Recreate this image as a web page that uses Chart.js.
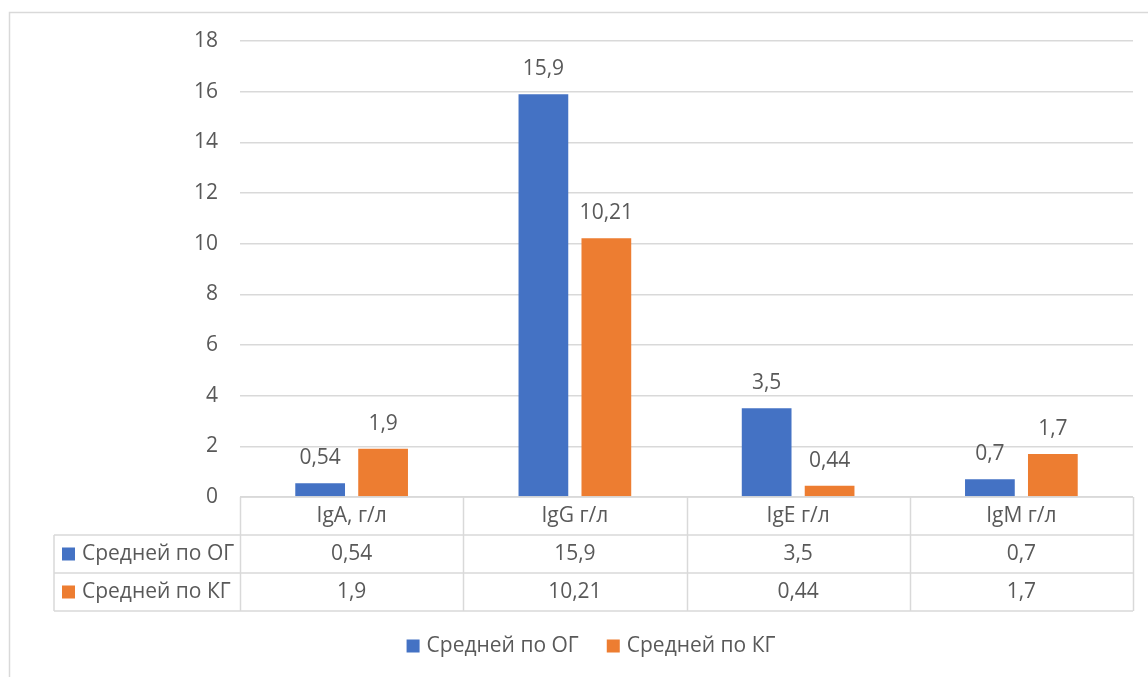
<!DOCTYPE html>
<html>
<head>
<meta charset="utf-8">
<script src="https://cdn.jsdelivr.net/npm/chart.js@4.4.0/dist/chart.umd.min.js"></script>
<style>
  html, body { margin: 0; padding: 0; background: #ffffff; }
  #wrap { width: 1148px; height: 677px; position: relative; }
</style>
</head>
<body>
<div id="wrap"><canvas id="chart"></canvas></div>
<script>
// Immunoglobulin means for the two groups
const categories = ['IgA, г/л', 'IgG г/л', 'IgE г/л', 'IgM г/л'];
const seriesNames = ['Средней по ОГ', 'Средней по КГ'];
const valuesOG = [0.54, 15.9, 3.5, 0.7];
const valuesKG = [1.9, 10.21, 0.44, 1.7];
const yMin = 0;
const yMax = 18;
const yStep = 2;

const seriesColors = ['#4472C4', '#ED7D31'];
const textColor = '#595959';
const lineColor = '#d9d9d9';
const fontFamily = '"Open Sans", "Noto Sans", sans-serif';
const fontSize = 21;

const fmt = v => String(v).replace('.', ',');

// Value labels above each bar
const valueLabels = {
  id: 'valueLabels',
  afterDatasetsDraw(chart) {
    const ctx = chart.ctx;
    ctx.save();
    ctx.font = fontSize + 'px ' + fontFamily;
    ctx.fillStyle = textColor;
    ctx.textAlign = 'center';
    ctx.textBaseline = 'middle';
    chart.data.datasets.forEach((ds, di) => {
      const meta = chart.getDatasetMeta(di);
      meta.data.forEach((bar, i) => {
        ctx.fillText(fmt(ds.data[i]), bar.x, bar.y - 25);
      });
    });
    ctx.restore();
  }
};

// Data table under the plot plus the bottom legend and outer frame
const dataTable = {
  id: 'dataTable',
  beforeDraw(chart) {
    const ctx = chart.ctx;
    ctx.save();
    ctx.strokeStyle = lineColor;
    ctx.lineWidth = 1.5;
    ctx.beginPath();
    ctx.moveTo(9.5, chart.height);
    ctx.lineTo(9.5, 12.5);
    ctx.lineTo(chart.width, 12.5);
    ctx.stroke();
    ctx.restore();
  },
  afterDraw(chart) {
    const ctx = chart.ctx;
    const area = chart.chartArea;
    const x = chart.scales.x;
    const catW = (area.right - area.left) / categories.length;
    const rowH = 38;
    const top = area.bottom;
    const leftCol = 54;
    const rows = [top, top + rowH, top + rowH * 2, top + rowH * 3];

    ctx.save();
    ctx.strokeStyle = lineColor;
    ctx.lineWidth = 1.5;
    ctx.beginPath();
    // horizontal rules
    ctx.moveTo(area.left, rows[0]); ctx.lineTo(area.right, rows[0]);
    for (let r = 1; r < rows.length; r++) {
      ctx.moveTo(leftCol, rows[r]); ctx.lineTo(area.right, rows[r]);
    }
    // vertical rules
    ctx.moveTo(leftCol, rows[1]); ctx.lineTo(leftCol, rows[3]);
    for (let c = 0; c <= categories.length; c++) {
      const cx = Math.round(area.left + c * catW) + 0.5;
      ctx.moveTo(cx, rows[0]); ctx.lineTo(cx, rows[3]);
    }
    ctx.stroke();

    ctx.font = fontSize + 'px ' + fontFamily;
    ctx.fillStyle = textColor;
    ctx.textBaseline = 'middle';
    ctx.textAlign = 'center';
    categories.forEach((c, i) => {
      const cx = x.getPixelForValue(i);
      ctx.fillText(c, cx, (rows[0] + rows[1]) / 2);
      ctx.fillText(fmt(valuesOG[i]), cx, (rows[1] + rows[2]) / 2);
      ctx.fillText(fmt(valuesKG[i]), cx, (rows[2] + rows[3]) / 2);
    });

    // series keys in the left column
    ctx.textAlign = 'left';
    seriesNames.forEach((name, s) => {
      const cy = (rows[s + 1] + rows[s + 2]) / 2;
      ctx.fillStyle = seriesColors[s];
      ctx.fillRect(62, cy - 6.5, 13, 13);
      ctx.fillStyle = textColor;
      ctx.fillText(name, 82, cy);
    });

    // legend below the table
    const ly = 646;
    const gap = 28;
    const w0 = ctx.measureText(seriesNames[0]).width;
    const w1 = ctx.measureText(seriesNames[1]).width;
    const total = 13 + 7 + w0 + gap + 13 + 7 + w1;
    let lx = 591 - total / 2;
    seriesNames.forEach((name, s) => {
      ctx.fillStyle = seriesColors[s];
      ctx.fillRect(lx, ly - 6.5, 13, 13);
      ctx.fillStyle = textColor;
      ctx.fillText(name, lx + 20, ly);
      lx += 20 + (s === 0 ? w0 : w1) + gap;
    });
    ctx.restore();
  }
};

new Chart(document.getElementById('chart'), {
  type: 'bar',
  data: {
    labels: categories,
    datasets: [
      { label: seriesNames[0], data: valuesOG, backgroundColor: seriesColors[0] },
      { label: seriesNames[1], data: valuesKG, backgroundColor: seriesColors[1] }
    ]
  },
  options: {
    responsive: true,
    maintainAspectRatio: false,
    animation: false,
    events: [],
    layout: { padding: { top: 41, right: 15, bottom: 180, left: 0 } },
    datasets: {
      bar: { categoryPercentage: 0.564, barPercentage: 0.79 }
    },
    plugins: {
      legend: { display: false },
      tooltip: { enabled: false }
    },
    scales: {
      x: { display: false },
      y: {
        min: yMin,
        max: yMax,
        afterFit(scale) { scale.width = 240; },
        ticks: {
          stepSize: yStep,
          padding: 22,
          color: textColor,
          font: { family: fontFamily, size: fontSize }
        },
        grid: { color: lineColor, lineWidth: 1.5, drawTicks: false },
        border: { display: false }
      }
    }
  },
  plugins: [valueLabels, dataTable]
});
</script>
</body>
</html>
